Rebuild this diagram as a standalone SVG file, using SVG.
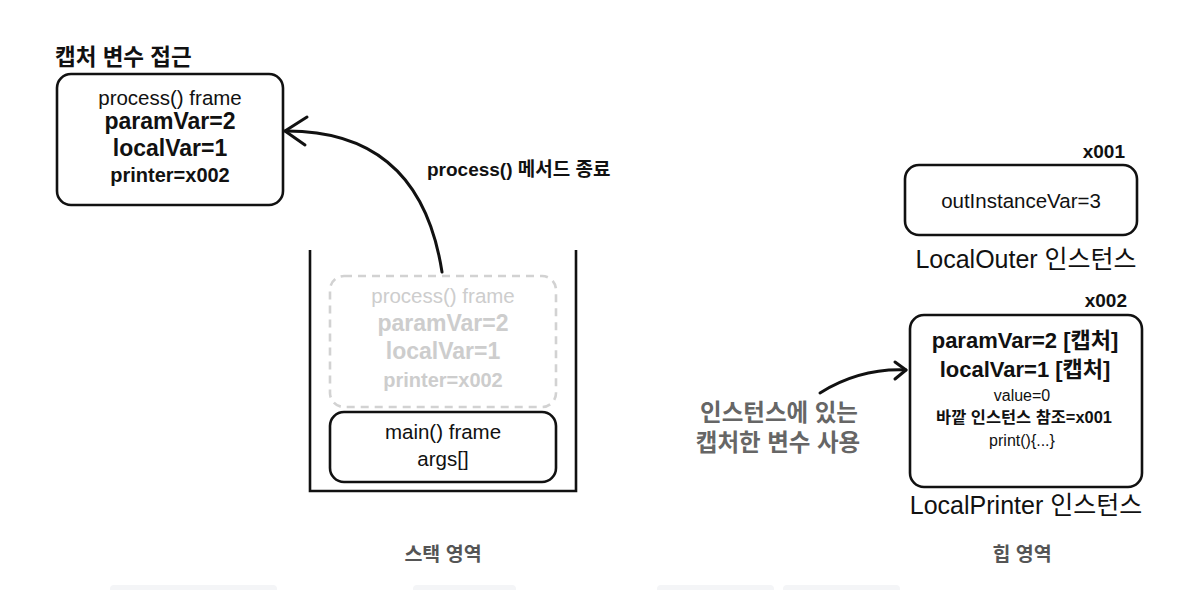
<svg xmlns="http://www.w3.org/2000/svg" width="1190" height="590" viewBox="0 0 1190 590">
<style>
text{font-family:"Liberation Sans","Noto Sans CJK KR",sans-serif;fill:#111}
.c{text-anchor:middle}
.b{font-weight:bold}
.box{fill:#fff;stroke:#111;stroke-width:2.6}
.ghost{fill:none;stroke:#d2d2d2;stroke-width:2.6;stroke-dasharray:8 6}
.g text{fill:#cdcdcd}
.r{font-size:20.5px}
.big{font-size:23px;font-weight:bold}
.lbl{font-size:25px}
.area{font-size:19.5px;font-weight:bold;fill:#555}
.note{font-size:23.5px;font-weight:bold;fill:#666}
.edge{fill:none;stroke:#111;stroke-width:3;stroke-linecap:round;stroke-linejoin:round}
.strip{fill:#f4f5f7}
</style>
<rect width="1190" height="590" fill="#fff"/>

<text x="55" y="65" class="b" style="font-size:22.5px">캡처 변수 접근</text>

<g id="process-frame">
<rect x="57" y="74" width="226" height="131" rx="14" class="box"/>
<text x="170" y="105" class="c r">process() frame</text>
<text x="170" y="129" class="c big">paramVar=2</text>
<text x="170" y="156" class="c big">localVar=1</text>
<text x="170" y="182" class="c b" style="font-size:20px">printer=x002</text>
</g>

<g id="stack">
<path d="M310 250 V491 H576 V250" fill="none" stroke="#111" stroke-width="2.6"/>
</g>

<g id="process-frame-ghost" class="g">
<rect x="330" y="276" width="226" height="131" rx="14" class="ghost"/>
<text x="443" y="303" class="c r">process() frame</text>
<text x="443" y="331" class="c big">paramVar=2</text>
<text x="443" y="359" class="c big">localVar=1</text>
<text x="443" y="387" class="c b" style="font-size:20px">printer=x002</text>
</g>

<g id="main-frame">
<rect x="330" y="412" width="226" height="70" rx="14" class="box"/>
<text x="443" y="439" class="c r">main() frame</text>
<text x="443" y="466" class="c r">args[]</text>
</g>

<g id="local-outer">
<text x="1125" y="158" class="b" style="font-size:19px;text-anchor:end">x001</text>
<rect x="905" y="165" width="232" height="70" rx="14" class="box"/>
<text x="1021" y="208" class="c r">outInstanceVar=3</text>
<text x="1026" y="268" class="c lbl">LocalOuter 인스턴스</text>
</g>

<g id="local-printer">
<text x="1127" y="307" class="b" style="font-size:19px;text-anchor:end">x002</text>
<rect x="910" y="315" width="232" height="172" rx="14" class="box"/>
<text x="1025" y="348" class="c b" style="font-size:22px">paramVar=2 [캡처]</text>
<text x="1025" y="377" class="c b" style="font-size:22px">localVar=1 [캡처]</text>
<text x="1022" y="401" class="c" style="font-size:16px">value=0</text>
<text x="1024" y="423" class="c b" style="font-size:16.4px">바깥 인스턴스 참조=x001</text>
<text x="1022" y="446" class="c" style="font-size:16px">print(){...}</text>
<text x="1026" y="514" class="c lbl">LocalPrinter 인스턴스</text>
</g>

<g id="captured-note">
<text x="779" y="421" class="c note">인스턴스에 있는</text>
<text x="778" y="451" class="c note">캡처한 변수 사용</text>
</g>

<g id="connectors">
<path d="M442 272 Q420 130 285 131" class="edge"/>
<path d="M307 117 L285 131 L305 145" class="edge"/>
<text x="427" y="176" class="b" style="font-size:19px">process() 메서드 종료</text>
<path d="M820 393 Q860 368 906 370" class="edge"/>
<path d="M895 362 L906 370 L895 379" class="edge"/>
</g>

<text x="443" y="561" class="c area">스택 영역</text>
<text x="1022" y="561" class="c area">힙 영역</text>

<rect x="110" y="585" width="167" height="12" rx="4" class="strip"/>
<rect x="413" y="585" width="103" height="12" rx="4" class="strip"/>
<rect x="657" y="585" width="117" height="12" rx="4" class="strip"/>
<rect x="783" y="585" width="117" height="12" rx="4" class="strip"/>
</svg>
